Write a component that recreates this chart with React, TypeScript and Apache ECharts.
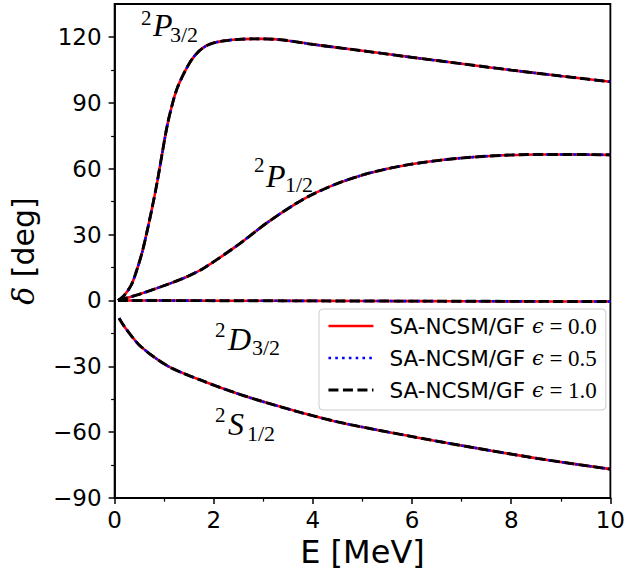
import React, { useEffect, useRef } from "react";
import * as echarts from "echarts";

// ---- Data ----
const eP32 = [0.07, 0.2, 0.34, 0.44, 0.56, 0.66, 0.76, 0.86, 0.96, 1.06, 1.16, 1.26, 1.4, 1.55, 1.7, 1.85, 2.0, 2.2, 2.45, 2.75, 3.0, 3.4, 4, 5, 6, 7, 8, 9, 10];
const dP32 = [0, 2.5, 7.2, 13.3, 22.3, 32, 42.5, 54, 67, 79.5, 89, 96.5, 103.5, 109.5, 113.5, 116, 117.3, 118.2, 118.8, 119.1, 119.1, 118.6, 116.6, 113.7, 110.7, 107.8, 104.9, 102.2, 99.6];

const eP12 = [0.07, 0.48, 1.15, 1.48, 1.82, 2.49, 3.1, 3.83, 4.5, 5.17, 5.84, 6.51, 7.18, 7.85, 8.52, 9.19, 10];
const dP12 = [0, 2.7, 8, 11, 15, 25.3, 35.8, 46.4, 53.3, 58.2, 61.5, 63.7, 65.2, 66.1, 66.5, 66.5, 66.3];

const eD32 = [0.07, 1, 2, 4, 6, 8, 10];
const dD32 = [0, -0.05, -0.1, -0.2, -0.3, -0.4, -0.5];

const eS12 = [0.09, 0.21, 0.48, 0.81, 1.15, 1.82, 2.49, 3.16, 3.83, 4.5, 5.17, 5.84, 6.51, 7.18, 7.85, 8.52, 9.19, 10];
const dS12 = [-8.1, -12.3, -19.9, -26, -30.8, -37, -42.5, -47.2, -51.5, -55.3, -58.4, -61.3, -64.1, -66.8, -69.4, -71.9, -74.2, -76.8];

const yMajorTicks = [-90, -60, -30, 0, 30, 60, 90, 120];
const yMinorTicks = [-75, -45, -15, 15, 45, 75, 105];

const seriesNames = ["SA-NCSM/GF ϵ = 0.0", "SA-NCSM/GF ϵ = 0.5", "SA-NCSM/GF ϵ = 1.0"];

const curves = [
  { e: eP32, d: dP32 },
  { e: eP12, d: dP12 },
  { e: eD32, d: dD32 },
  { e: eS12, d: dS12 },
];

// styles per legend entry
const lineStyles = [
  { color: "#ff0000", width: 2.6, type: "solid" as any },
  { color: "#0000ff", width: 2.6, type: [2.6, 4.2] as any },
  { color: "#000000", width: 2.9, type: [10, 4.5] as any },
];

// annotation layout (pixels)
const annotations = [
  { sup: "2", main: "P", sub: "3/2", sx: 141, sy: 17.5, mx: 153, my: 25, bx: 170, by: 34 },
  { sup: "2", main: "P", sub: "1/2", sx: 254, sy: 165, mx: 266, my: 176, bx: 285, by: 184 },
  { sup: "2", main: "D", sub: "3/2", sx: 215, sy: 330, mx: 228, my: 339, bx: 252, by: 347 },
  { sup: "2", main: "S", sub: "1/2", sx: 215, sy: 415, mx: 228, my: 424, bx: 247, by: 433 },
];

const SERIF = "Liberation Serif";
const SANS = "DejaVu Sans";

export default function App() {
  const ref = useRef<HTMLDivElement>(null);

  useEffect(() => {
    document.body.style.margin = "0";
    const chart = echarts.init(ref.current!, null, { renderer: "svg" });

    const series: any[] = [];
    seriesNames.forEach((name, si) => {
      curves.forEach((c) => {
        series.push({
          type: "line",
          name,
          data: c.e.map((x, i) => [x, c.d[i]]),
          showSymbol: false,
          symbol: "none",
          smooth: 0.3,
          lineStyle: { ...lineStyles[si], cap: "butt" },
          z: 2 + si,
          silent: true,
        });
      });
    });

    const graphics: any[] = [];
    annotations.forEach((a) => {
      graphics.push({
        type: "text",
        x: a.sx,
        y: a.sy,
        style: { text: a.sup, font: `21px '${SERIF}'`, fill: "#000", textAlign: "left", textVerticalAlign: "middle" },
      });
      graphics.push({
        type: "text",
        x: a.mx,
        y: a.my,
        style: { text: a.main, font: `italic 32px '${SERIF}'`, fill: "#000", textAlign: "left", textVerticalAlign: "middle" },
      });
      graphics.push({
        type: "text",
        x: a.bx,
        y: a.by,
        style: { text: a.sub, font: `22px '${SERIF}'`, fill: "#000", textAlign: "left", textVerticalAlign: "middle" },
      });
    });

    const option: any = {
      animation: false,
      grid: {
        left: 114.6,
        right: 16,
        top: 4,
        bottom: 71,
        show: true,
        borderColor: "#000",
        borderWidth: 1.8,
        backgroundColor: "transparent",
      },
      xAxis: {
        type: "value",
        min: 0,
        max: 10,
        interval: 2,
        axisLine: { show: true, onZero: false, lineStyle: { color: "#000", width: 1.8 } },
        axisTick: { show: true, length: 6, lineStyle: { color: "#000", width: 1.5 } },
        minorTick: { show: true, splitNumber: 2, length: 3.5, lineStyle: { color: "#000", width: 1.2 } },
        splitLine: { show: false },
        axisLabel: { fontFamily: SANS, fontSize: 23, color: "#000", margin: 10 },
        name: "E [MeV]",
        nameLocation: "middle",
        nameGap: 36,
        nameTextStyle: { fontFamily: SANS, fontSize: 32, color: "#000" },
      },
      yAxis: [
        {
          type: "value",
          min: -90,
          max: 135,
          position: "left",
          axisLine: { show: true, onZero: false, lineStyle: { color: "#000", width: 1.8 } },
          axisTick: { show: true, length: 6, customValues: yMajorTicks, lineStyle: { color: "#000", width: 1.5 } },
          splitLine: { show: false },
          axisLabel: {
            customValues: yMajorTicks,
            fontFamily: SANS,
            fontSize: 23,
            color: "#000",
            margin: 13,
            formatter: (v: number) => (v < 0 ? "\u2212" + Math.abs(v) : String(v)),
          },
          name: "{d|δ} [deg]",
          nameLocation: "middle",
          nameGap: 76,
          nameTextStyle: {
            fontFamily: SANS,
            fontSize: 30,
            color: "#000",
            rich: { d: { fontFamily: "DejaVu Serif", fontStyle: "italic", fontSize: 30, color: "#000" } },
          },
        },
        {
          type: "value",
          min: -90,
          max: 135,
          position: "left",
          offset: 0,
          axisLine: { show: false },
          axisTick: { show: true, length: 3.5, customValues: yMinorTicks, lineStyle: { color: "#000", width: 1.2 } },
          axisLabel: { show: false },
          splitLine: { show: false },
        },
      ],
      legend: {
        orient: "vertical",
        left: 319,
        top: 309,
        padding: [5, 9, 8, 8],
        itemWidth: 45,
        itemHeight: 14,
        itemGap: 8,
        selectedMode: false,
        backgroundColor: "rgba(255,255,255,0.8)",
        borderColor: "#cccccc",
        borderWidth: 1,
        borderRadius: 4,
        data: seriesNames.map((n, i) => ({
          name: n,
          itemStyle: { opacity: 0 },
          lineStyle: { ...lineStyles[i] },
        })),
        formatter: (name: string) => {
          const parts = name.split(" ϵ ");
          return `{a|${parts[0]}} {e|ϵ}{b| ${parts[1]}}`;
        },
        textStyle: {
          fontFamily: SANS,
          fontSize: 21.5,
          color: "#000",
          lineHeight: 24,
          rich: {
            a: { fontFamily: SANS, fontSize: 21.5, color: "#000", padding: [0, 0, 0, 11] },
            e: { fontFamily: "DejaVu Serif", fontStyle: "italic", fontSize: 21, color: "#000" },
            b: { fontFamily: SERIF, fontSize: 23, color: "#000" },
          },
        },
      },
      graphic: graphics,
      series,
    };

    chart.setOption(option);
    return () => chart.dispose();
  }, []);

  return <div ref={ref} style={{ position: "absolute", left: 0, top: 0, width: 628, height: 573 }} />;
}
